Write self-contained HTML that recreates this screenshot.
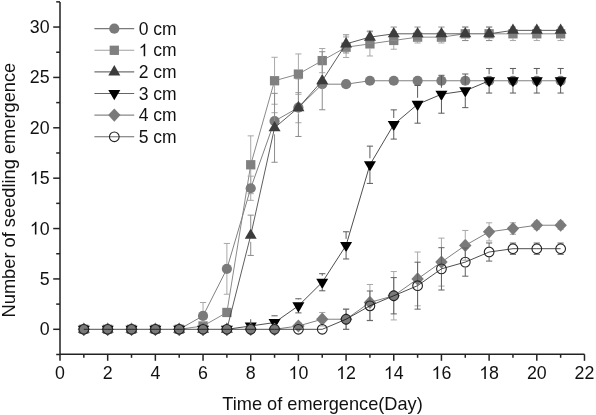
<!DOCTYPE html>
<html><head><meta charset="utf-8"><style>
html,body{margin:0;padding:0;background:#fff;}
svg{display:block;will-change:transform;font-family:"Liberation Sans",sans-serif;}
text{font-family:"Liberation Sans",sans-serif;}
</style></head><body>
<svg width="596" height="415" viewBox="0 0 596 415">
<g><path d="M60,1.9V354.3H584.5" stroke="#222" stroke-width="1.5" fill="none"/><path d="M60.00,354.3V360.80" stroke="#222" stroke-width="1.5"/><path d="M83.84,354.3V357.80" stroke="#222" stroke-width="1.5"/><path d="M107.68,354.3V360.80" stroke="#222" stroke-width="1.5"/><path d="M131.52,354.3V357.80" stroke="#222" stroke-width="1.5"/><path d="M155.36,354.3V360.80" stroke="#222" stroke-width="1.5"/><path d="M179.20,354.3V357.80" stroke="#222" stroke-width="1.5"/><path d="M203.04,354.3V360.80" stroke="#222" stroke-width="1.5"/><path d="M226.88,354.3V357.80" stroke="#222" stroke-width="1.5"/><path d="M250.72,354.3V360.80" stroke="#222" stroke-width="1.5"/><path d="M274.56,354.3V357.80" stroke="#222" stroke-width="1.5"/><path d="M298.40,354.3V360.80" stroke="#222" stroke-width="1.5"/><path d="M322.24,354.3V357.80" stroke="#222" stroke-width="1.5"/><path d="M346.08,354.3V360.80" stroke="#222" stroke-width="1.5"/><path d="M369.92,354.3V357.80" stroke="#222" stroke-width="1.5"/><path d="M393.76,354.3V360.80" stroke="#222" stroke-width="1.5"/><path d="M417.60,354.3V357.80" stroke="#222" stroke-width="1.5"/><path d="M441.44,354.3V360.80" stroke="#222" stroke-width="1.5"/><path d="M465.28,354.3V357.80" stroke="#222" stroke-width="1.5"/><path d="M489.12,354.3V360.80" stroke="#222" stroke-width="1.5"/><path d="M512.96,354.3V357.80" stroke="#222" stroke-width="1.5"/><path d="M536.80,354.3V360.80" stroke="#222" stroke-width="1.5"/><path d="M560.64,354.3V357.80" stroke="#222" stroke-width="1.5"/><path d="M584.48,354.3V360.80" stroke="#222" stroke-width="1.5"/><path d="M60,354.49H56.20" stroke="#222" stroke-width="1.5"/><path d="M60,329.30H53.20" stroke="#222" stroke-width="1.5"/><path d="M60,304.11H56.20" stroke="#222" stroke-width="1.5"/><path d="M60,278.93H53.20" stroke="#222" stroke-width="1.5"/><path d="M60,253.74H56.20" stroke="#222" stroke-width="1.5"/><path d="M60,228.55H53.20" stroke="#222" stroke-width="1.5"/><path d="M60,203.36H56.20" stroke="#222" stroke-width="1.5"/><path d="M60,178.18H53.20" stroke="#222" stroke-width="1.5"/><path d="M60,152.99H56.20" stroke="#222" stroke-width="1.5"/><path d="M60,127.80H53.20" stroke="#222" stroke-width="1.5"/><path d="M60,102.61H56.20" stroke="#222" stroke-width="1.5"/><path d="M60,77.43H53.20" stroke="#222" stroke-width="1.5"/><path d="M60,52.24H56.20" stroke="#222" stroke-width="1.5"/><path d="M60,27.05H53.20" stroke="#222" stroke-width="1.5"/><path d="M60,1.86H56.20" stroke="#222" stroke-width="1.5"/></g>
<g font-family="Liberation Sans, sans-serif" font-size="17.8" fill="#111"><text x="55.05" y="379.00" font-size="17.8" xml:space="preserve">0</text><text x="102.73" y="379.00" font-size="17.8" xml:space="preserve">2</text><text x="150.41" y="379.00" font-size="17.8" xml:space="preserve">4</text><text x="198.09" y="379.00" font-size="17.8" xml:space="preserve">6</text><text x="245.77" y="379.00" font-size="17.8" xml:space="preserve">8</text><path transform="translate(288.50,379.00) scale(0.00869,-0.00869)" d="M763,0L583,0L583,1147Q518,1085 412,1023Q306,961 223,930L223,1104Q372,1174 484,1274Q596,1374 643,1466L763,1466Z" fill="#111"/><text x="298.40" y="379.00" font-size="17.8" xml:space="preserve">0</text><path transform="translate(336.18,379.00) scale(0.00869,-0.00869)" d="M763,0L583,0L583,1147Q518,1085 412,1023Q306,961 223,930L223,1104Q372,1174 484,1274Q596,1374 643,1466L763,1466Z" fill="#111"/><text x="346.08" y="379.00" font-size="17.8" xml:space="preserve">2</text><path transform="translate(383.86,379.00) scale(0.00869,-0.00869)" d="M763,0L583,0L583,1147Q518,1085 412,1023Q306,961 223,930L223,1104Q372,1174 484,1274Q596,1374 643,1466L763,1466Z" fill="#111"/><text x="393.76" y="379.00" font-size="17.8" xml:space="preserve">4</text><path transform="translate(431.54,379.00) scale(0.00869,-0.00869)" d="M763,0L583,0L583,1147Q518,1085 412,1023Q306,961 223,930L223,1104Q372,1174 484,1274Q596,1374 643,1466L763,1466Z" fill="#111"/><text x="441.44" y="379.00" font-size="17.8" xml:space="preserve">6</text><path transform="translate(479.22,379.00) scale(0.00869,-0.00869)" d="M763,0L583,0L583,1147Q518,1085 412,1023Q306,961 223,930L223,1104Q372,1174 484,1274Q596,1374 643,1466L763,1466Z" fill="#111"/><text x="489.12" y="379.00" font-size="17.8" xml:space="preserve">8</text><text x="526.90" y="379.00" font-size="17.8" xml:space="preserve">20</text><text x="574.58" y="379.00" font-size="17.8" xml:space="preserve">22</text><text x="39.70" y="335.30" font-size="17.8" xml:space="preserve">0</text><text x="39.70" y="284.93" font-size="17.8" xml:space="preserve">5</text><path transform="translate(29.80,234.55) scale(0.00869,-0.00869)" d="M763,0L583,0L583,1147Q518,1085 412,1023Q306,961 223,930L223,1104Q372,1174 484,1274Q596,1374 643,1466L763,1466Z" fill="#111"/><text x="39.70" y="234.55" font-size="17.8" xml:space="preserve">0</text><path transform="translate(29.80,184.18) scale(0.00869,-0.00869)" d="M763,0L583,0L583,1147Q518,1085 412,1023Q306,961 223,930L223,1104Q372,1174 484,1274Q596,1374 643,1466L763,1466Z" fill="#111"/><text x="39.70" y="184.18" font-size="17.8" xml:space="preserve">5</text><text x="29.80" y="133.80" font-size="17.8" xml:space="preserve">20</text><text x="29.80" y="83.43" font-size="17.8" xml:space="preserve">25</text><text x="29.80" y="33.05" font-size="17.8" xml:space="preserve">30</text><text x="322.5" y="409.8" text-anchor="middle" font-size="18.2">Time of emergence(Day)</text><text transform="translate(15.1,190.1) rotate(-90)" text-anchor="middle" font-size="18.25">Number of seedling emergence</text><text x="138.70" y="34.60" font-size="17.5" xml:space="preserve">0 cm</text><path transform="translate(138.70,56.32) scale(0.00854,-0.00854)" d="M763,0L583,0L583,1147Q518,1085 412,1023Q306,961 223,930L223,1104Q372,1174 484,1274Q596,1374 643,1466L763,1466Z" fill="#111"/><text x="148.43" y="56.32" font-size="17.5" xml:space="preserve"> cm</text><text x="138.70" y="78.04" font-size="17.5" xml:space="preserve">2 cm</text><text x="138.70" y="99.76" font-size="17.5" xml:space="preserve">3 cm</text><text x="138.70" y="121.48" font-size="17.5" xml:space="preserve">4 cm</text><text x="138.70" y="143.20" font-size="17.5" xml:space="preserve">5 cm</text></g>
<g><path d="M94.4,28.7H134.2" stroke="#7a7a7a" stroke-width="1.2"/><circle cx="114.30" cy="28.70" r="5.1" fill="#7a7a7a"/><path d="M94.4,50.3H134.2" stroke="#a0a0a0" stroke-width="1.1"/><rect x="109.65" y="45.65" width="9.30" height="9.30" fill="#808080"/><path d="M94.4,71.9H134.2" stroke="#707070" stroke-width="1.1"/><path d="M114.30,65.10L120.30,75.40L108.30,75.40Z" fill="#3c3c3c"/><path d="M94.4,93.5H134.2" stroke="#666" stroke-width="1.1"/><path d="M114.30,100.30L120.30,90.00L108.30,90.00Z" fill="#000000"/><path d="M94.4,115.1H134.2" stroke="#888" stroke-width="1.2"/><path d="M114.30,108.50L120.50,115.10L114.30,121.70L108.10,115.10Z" fill="#7a7a7a"/><path d="M94.4,136.8H134.2" stroke="#6a6a6a" stroke-width="1.1"/><circle cx="114.30" cy="136.80" r="4.85" fill="none" stroke="#222" stroke-width="1.1"/></g>
<g><path d="M199.94,322.95H206.14M199.94,329.00H206.14" stroke="#a8a8a8" stroke-width="1" fill="none"/><path d="M223.78,309.45H229.98M223.78,315.50H229.98" stroke="#a8a8a8" stroke-width="1" fill="none"/><path d="M250.72,135.86V160.13M250.72,169.43V193.69M247.62,135.86H253.82M247.62,193.69H253.82" stroke="#a8a8a8" stroke-width="1" fill="none"/><path d="M274.56,57.28V76.10M274.56,85.40V104.22M271.46,57.28H277.66M271.46,104.22H277.66" stroke="#a8a8a8" stroke-width="1" fill="none"/><path d="M298.40,53.95V69.45M298.40,78.75V94.25M295.30,53.95H301.50M295.30,94.25H301.50" stroke="#a8a8a8" stroke-width="1" fill="none"/><path d="M322.24,48.51V55.95M322.24,65.25V72.69M319.14,48.51H325.34M319.14,72.69H325.34" stroke="#a8a8a8" stroke-width="1" fill="none"/><path d="M346.08,36.92V42.55M346.08,51.85V57.48M342.98,36.92H349.18M342.98,57.48H349.18" stroke="#a8a8a8" stroke-width="1" fill="none"/><path d="M369.92,31.79V39.23M369.92,48.53V55.97M366.82,31.79H373.02M366.82,55.97H373.02" stroke="#a8a8a8" stroke-width="1" fill="none"/><path d="M393.76,31.68V35.80M393.76,45.10V49.22M390.66,31.68H396.86M390.66,49.22H396.86" stroke="#a8a8a8" stroke-width="1" fill="none"/><path d="M417.60,31.28V32.48M417.60,41.78V42.97M414.50,31.28H420.70M414.50,42.97H420.70" stroke="#a8a8a8" stroke-width="1" fill="none"/><path d="M441.44,31.28V32.48M441.44,41.78V42.97M438.34,31.28H444.54M438.34,42.97H444.54" stroke="#a8a8a8" stroke-width="1" fill="none"/><path d="M465.28,27.05V29.15M465.28,38.45V40.55M462.18,27.05H468.38M462.18,40.55H468.38" stroke="#a8a8a8" stroke-width="1" fill="none"/><path d="M489.12,27.05V29.15M489.12,38.45V40.55M486.02,27.05H492.22M486.02,40.55H492.22" stroke="#a8a8a8" stroke-width="1" fill="none"/><path d="M512.96,27.05V29.15M512.96,38.45V40.55M509.86,27.05H516.06M509.86,40.55H516.06" stroke="#a8a8a8" stroke-width="1" fill="none"/><path d="M536.80,27.05V29.15M536.80,38.45V40.55M533.70,27.05H539.90M533.70,40.55H539.90" stroke="#a8a8a8" stroke-width="1" fill="none"/><path d="M560.64,27.05V29.15M560.64,38.45V40.55M557.54,27.05H563.74M557.54,40.55H563.74" stroke="#a8a8a8" stroke-width="1" fill="none"/><path d="M179.20,329.30L203.04,325.98L226.88,312.47L250.72,164.78L274.56,80.75L298.40,74.10L322.24,60.60L346.08,47.20L369.92,43.88L393.76,40.45L417.60,37.13L441.44,37.13L465.28,33.80M489.12,33.80L512.96,33.80L536.80,33.80L560.64,33.80" fill="none" stroke="#8a8a8a" stroke-width="1.0" stroke-linejoin="round"/><rect x="79.19" y="324.65" width="9.30" height="9.30" fill="#808080"/><rect x="103.03" y="324.65" width="9.30" height="9.30" fill="#808080"/><rect x="126.87" y="324.65" width="9.30" height="9.30" fill="#808080"/><rect x="150.71" y="324.65" width="9.30" height="9.30" fill="#808080"/><rect x="174.55" y="324.65" width="9.30" height="9.30" fill="#808080"/><rect x="198.39" y="321.33" width="9.30" height="9.30" fill="#808080"/><rect x="222.23" y="307.82" width="9.30" height="9.30" fill="#808080"/><rect x="246.07" y="160.13" width="9.30" height="9.30" fill="#808080"/><rect x="269.91" y="76.10" width="9.30" height="9.30" fill="#808080"/><rect x="293.75" y="69.45" width="9.30" height="9.30" fill="#808080"/><rect x="317.59" y="55.95" width="9.30" height="9.30" fill="#808080"/><rect x="341.43" y="42.55" width="9.30" height="9.30" fill="#808080"/><rect x="365.27" y="39.23" width="9.30" height="9.30" fill="#808080"/><rect x="389.11" y="35.80" width="9.30" height="9.30" fill="#808080"/><rect x="412.95" y="32.48" width="9.30" height="9.30" fill="#808080"/><rect x="436.79" y="32.48" width="9.30" height="9.30" fill="#808080"/><rect x="460.63" y="29.15" width="9.30" height="9.30" fill="#808080"/><rect x="484.47" y="29.15" width="9.30" height="9.30" fill="#808080"/><rect x="508.31" y="29.15" width="9.30" height="9.30" fill="#808080"/><rect x="532.15" y="29.15" width="9.30" height="9.30" fill="#808080"/><rect x="555.99" y="29.15" width="9.30" height="9.30" fill="#808080"/><path d="M203.04,302.50V310.80M203.04,321.00V329.30M199.94,302.50H206.14M199.94,329.30H206.14" stroke="#a8a8a8" stroke-width="1" fill="none"/><path d="M226.88,243.46V263.75M226.88,273.95V294.24M223.78,243.46H229.98M223.78,294.24H229.98" stroke="#a8a8a8" stroke-width="1" fill="none"/><path d="M250.72,176.16V183.15M250.72,193.35V200.34M247.62,176.16H253.82M247.62,200.34H253.82" stroke="#a8a8a8" stroke-width="1" fill="none"/><path d="M274.56,112.69V115.95M274.56,126.15V129.41M271.46,112.69H277.66M271.46,129.41H277.66" stroke="#a8a8a8" stroke-width="1" fill="none"/><path d="M298.40,92.54V102.55M298.40,112.75V122.76M295.30,92.54H301.50M295.30,122.76H301.50" stroke="#a8a8a8" stroke-width="1" fill="none"/><path d="M319.14,81.15H325.34M319.14,87.20H325.34" stroke="#a8a8a8" stroke-width="1" fill="none"/><path d="M342.98,81.15H349.18M342.98,87.20H349.18" stroke="#a8a8a8" stroke-width="1" fill="none"/><path d="M366.82,77.73H373.02M366.82,83.77H373.02" stroke="#a8a8a8" stroke-width="1" fill="none"/><path d="M390.66,77.73H396.86M390.66,83.77H396.86" stroke="#a8a8a8" stroke-width="1" fill="none"/><path d="M414.50,77.73H420.70M414.50,83.77H420.70" stroke="#a8a8a8" stroke-width="1" fill="none"/><path d="M438.34,77.73H444.54M438.34,83.77H444.54" stroke="#a8a8a8" stroke-width="1" fill="none"/><path d="M462.18,77.73H468.38M462.18,83.77H468.38" stroke="#a8a8a8" stroke-width="1" fill="none"/><path d="M486.02,77.73H492.22M486.02,83.77H492.22" stroke="#a8a8a8" stroke-width="1" fill="none"/><path d="M509.86,77.73H516.06M509.86,83.77H516.06" stroke="#a8a8a8" stroke-width="1" fill="none"/><path d="M533.70,77.73H539.90M533.70,83.77H539.90" stroke="#a8a8a8" stroke-width="1" fill="none"/><path d="M557.54,77.73H563.74M557.54,83.77H563.74" stroke="#a8a8a8" stroke-width="1" fill="none"/><path d="M179.20,329.30L203.04,315.90L226.88,268.85L250.72,188.25L274.56,121.05L298.40,107.65L322.24,84.18L346.08,84.18L369.92,80.75L393.76,80.75L417.60,80.75L441.44,80.75L465.28,80.75L489.12,80.75L512.96,80.75L536.80,80.75L560.64,80.75" fill="none" stroke="#808080" stroke-width="1.0" stroke-linejoin="round"/><circle cx="83.84" cy="329.30" r="5.1" fill="#7a7a7a"/><circle cx="107.68" cy="329.30" r="5.1" fill="#7a7a7a"/><circle cx="131.52" cy="329.30" r="5.1" fill="#7a7a7a"/><circle cx="155.36" cy="329.30" r="5.1" fill="#7a7a7a"/><circle cx="179.20" cy="329.30" r="5.1" fill="#7a7a7a"/><circle cx="203.04" cy="315.90" r="5.1" fill="#7a7a7a"/><circle cx="226.88" cy="268.85" r="5.1" fill="#7a7a7a"/><circle cx="250.72" cy="188.25" r="5.1" fill="#7a7a7a"/><circle cx="274.56" cy="121.05" r="5.1" fill="#7a7a7a"/><circle cx="298.40" cy="107.65" r="5.1" fill="#7a7a7a"/><circle cx="322.24" cy="84.18" r="5.1" fill="#7a7a7a"/><circle cx="346.08" cy="84.18" r="5.1" fill="#7a7a7a"/><circle cx="369.92" cy="80.75" r="5.1" fill="#7a7a7a"/><circle cx="393.76" cy="80.75" r="5.1" fill="#7a7a7a"/><circle cx="417.60" cy="80.75" r="5.1" fill="#7a7a7a"/><circle cx="441.44" cy="80.75" r="5.1" fill="#7a7a7a"/><circle cx="465.28" cy="80.75" r="5.1" fill="#7a7a7a"/><circle cx="489.12" cy="80.75" r="5.1" fill="#7a7a7a"/><circle cx="512.96" cy="80.75" r="5.1" fill="#7a7a7a"/><circle cx="536.80" cy="80.75" r="5.1" fill="#7a7a7a"/><circle cx="560.64" cy="80.75" r="5.1" fill="#7a7a7a"/><path d="M250.72,215.15V228.80M250.72,241.80V255.45M247.62,215.15H253.82M247.62,255.45H253.82" stroke="#8c8c8c" stroke-width="1" fill="none"/><path d="M274.56,93.34V121.30M274.56,134.30V162.26M271.46,93.34H277.66M271.46,162.26H277.66" stroke="#8c8c8c" stroke-width="1" fill="none"/><path d="M298.40,78.84V101.15M298.40,114.15V136.46M295.30,78.84H301.50M295.30,136.46H301.50" stroke="#8c8c8c" stroke-width="1" fill="none"/><path d="M322.24,51.73V74.25M322.24,87.25V109.77M319.14,51.73H325.34M319.14,109.77H325.34" stroke="#8c8c8c" stroke-width="1" fill="none"/><path d="M346.08,34.81V37.38M346.08,50.38V52.94M342.98,34.81H349.18M342.98,52.94H349.18" stroke="#8c8c8c" stroke-width="1" fill="none"/><path d="M366.82,31.08H373.02M366.82,43.17H373.02" stroke="#8c8c8c" stroke-width="1" fill="none"/><path d="M393.76,27.05V27.30M393.76,40.30V40.55M390.66,27.05H396.86M390.66,40.55H396.86" stroke="#8c8c8c" stroke-width="1" fill="none"/><path d="M417.60,27.05V27.30M417.60,40.30V40.55M414.50,27.05H420.70M414.50,40.55H420.70" stroke="#8c8c8c" stroke-width="1" fill="none"/><path d="M441.44,27.05V27.30M441.44,40.30V40.55M438.34,27.05H444.54M438.34,40.55H444.54" stroke="#8c8c8c" stroke-width="1" fill="none"/><path d="M465.28,27.05V27.30M465.28,40.30V40.55M462.18,27.05H468.38M462.18,40.55H468.38" stroke="#8c8c8c" stroke-width="1" fill="none"/><path d="M489.12,27.05V27.30M489.12,40.30V40.55M486.02,27.05H492.22M486.02,40.55H492.22" stroke="#8c8c8c" stroke-width="1" fill="none"/><path d="M226.88,329.30L250.72,235.30L274.56,127.80L298.40,107.65L322.24,80.75L346.08,43.88L369.92,37.13L393.76,33.80L417.60,33.80L441.44,33.80L465.28,33.80L489.12,33.80L512.96,30.37L536.80,30.37L560.64,30.37" fill="none" stroke="#333333" stroke-width="0.8" stroke-linejoin="round"/><path d="M83.84,322.50L89.84,332.80L77.84,332.80Z" fill="#3c3c3c"/><path d="M107.68,322.50L113.68,332.80L101.68,332.80Z" fill="#3c3c3c"/><path d="M131.52,322.50L137.52,332.80L125.52,332.80Z" fill="#3c3c3c"/><path d="M155.36,322.50L161.36,332.80L149.36,332.80Z" fill="#3c3c3c"/><path d="M179.20,322.50L185.20,332.80L173.20,332.80Z" fill="#3c3c3c"/><path d="M203.04,322.50L209.04,332.80L197.04,332.80Z" fill="#3c3c3c"/><path d="M226.88,322.50L232.88,332.80L220.88,332.80Z" fill="#3c3c3c"/><path d="M250.72,228.50L256.72,238.80L244.72,238.80Z" fill="#3c3c3c"/><path d="M274.56,121.00L280.56,131.30L268.56,131.30Z" fill="#3c3c3c"/><path d="M298.40,100.85L304.40,111.15L292.40,111.15Z" fill="#3c3c3c"/><path d="M322.24,73.95L328.24,84.25L316.24,84.25Z" fill="#3c3c3c"/><path d="M346.08,37.08L352.08,47.38L340.08,47.38Z" fill="#3c3c3c"/><path d="M369.92,30.33L375.92,40.63L363.92,40.63Z" fill="#3c3c3c"/><path d="M393.76,27.00L399.76,37.30L387.76,37.30Z" fill="#3c3c3c"/><path d="M417.60,27.00L423.60,37.30L411.60,37.30Z" fill="#3c3c3c"/><path d="M441.44,27.00L447.44,37.30L435.44,37.30Z" fill="#3c3c3c"/><path d="M465.28,27.00L471.28,37.30L459.28,37.30Z" fill="#3c3c3c"/><path d="M489.12,27.00L495.12,37.30L483.12,37.30Z" fill="#3c3c3c"/><path d="M512.96,23.57L518.96,33.87L506.96,33.87Z" fill="#3c3c3c"/><path d="M536.80,23.57L542.80,33.87L530.80,33.87Z" fill="#3c3c3c"/><path d="M560.64,23.57L566.64,33.87L554.64,33.87Z" fill="#3c3c3c"/><path d="M250.72,322.48V319.23" stroke="#5a5a5a" stroke-width="1" fill="none"/><path d="M274.56,315.80V316.05M274.56,329.05V329.30M271.46,315.80H277.66M271.46,329.30H277.66" stroke="#5a5a5a" stroke-width="1" fill="none"/><path d="M298.40,298.77V299.33M298.40,312.33V312.88M295.30,298.77H301.50M295.30,312.88H301.50" stroke="#5a5a5a" stroke-width="1" fill="none"/><path d="M322.24,273.69V275.75M322.24,288.75V290.81M319.14,273.69H325.34M319.14,290.81H325.34" stroke="#5a5a5a" stroke-width="1" fill="none"/><path d="M346.08,231.77V238.88M346.08,251.88V258.98M342.98,231.77H349.18M342.98,258.98H349.18" stroke="#5a5a5a" stroke-width="1" fill="none"/><path d="M369.92,146.14V158.28M369.92,171.28V183.41M366.82,146.14H373.02M366.82,183.41H373.02" stroke="#5a5a5a" stroke-width="1" fill="none"/><path d="M393.76,109.87V117.98M393.76,130.98V139.08M390.66,109.87H396.86M390.66,139.08H396.86" stroke="#5a5a5a" stroke-width="1" fill="none"/><path d="M417.60,85.49V97.83M417.60,110.83V123.17M414.50,85.49H420.70M414.50,123.17H420.70" stroke="#5a5a5a" stroke-width="1" fill="none"/><path d="M441.44,75.31V87.75M441.44,100.75V113.19M438.34,75.31H444.54M438.34,113.19H444.54" stroke="#5a5a5a" stroke-width="1" fill="none"/><path d="M465.28,74.00V84.32M465.28,97.32V107.65M462.18,74.00H468.38M462.18,107.65H468.38" stroke="#5a5a5a" stroke-width="1" fill="none"/><path d="M489.12,68.46V74.25M489.12,87.25V93.04M486.02,68.46H492.22M486.02,93.04H492.22" stroke="#5a5a5a" stroke-width="1" fill="none"/><path d="M512.96,68.46V74.25M512.96,87.25V93.04M509.86,68.46H516.06M509.86,93.04H516.06" stroke="#5a5a5a" stroke-width="1" fill="none"/><path d="M536.80,68.46V74.25M536.80,87.25V93.04M533.70,68.46H539.90M533.70,93.04H539.90" stroke="#5a5a5a" stroke-width="1" fill="none"/><path d="M560.64,68.46V74.25M560.64,87.25V93.04M557.54,68.46H563.74M557.54,93.04H563.74" stroke="#5a5a5a" stroke-width="1" fill="none"/><path d="M226.88,329.30L250.72,325.98L274.56,322.55L298.40,305.83L322.24,282.25L346.08,245.38L369.92,164.78L393.76,124.48L417.60,104.33L441.44,94.25L465.28,90.82L489.12,80.75" fill="none" stroke="#000000" stroke-width="0.7" stroke-linejoin="round"/><path d="M83.84,336.10L89.84,325.80L77.84,325.80Z" fill="#000000"/><path d="M107.68,336.10L113.68,325.80L101.68,325.80Z" fill="#000000"/><path d="M131.52,336.10L137.52,325.80L125.52,325.80Z" fill="#000000"/><path d="M155.36,336.10L161.36,325.80L149.36,325.80Z" fill="#000000"/><path d="M179.20,336.10L185.20,325.80L173.20,325.80Z" fill="#000000"/><path d="M203.04,336.10L209.04,325.80L197.04,325.80Z" fill="#000000"/><path d="M226.88,336.10L232.88,325.80L220.88,325.80Z" fill="#000000"/><path d="M250.72,332.78L256.72,322.48L244.72,322.48Z" fill="#000000"/><path d="M274.56,329.35L280.56,319.05L268.56,319.05Z" fill="#000000"/><path d="M298.40,312.63L304.40,302.33L292.40,302.33Z" fill="#000000"/><path d="M322.24,289.05L328.24,278.75L316.24,278.75Z" fill="#000000"/><path d="M346.08,252.18L352.08,241.88L340.08,241.88Z" fill="#000000"/><path d="M369.92,171.58L375.92,161.28L363.92,161.28Z" fill="#000000"/><path d="M393.76,131.28L399.76,120.98L387.76,120.98Z" fill="#000000"/><path d="M417.60,111.13L423.60,100.83L411.60,100.83Z" fill="#000000"/><path d="M441.44,101.05L447.44,90.75L435.44,90.75Z" fill="#000000"/><path d="M465.28,97.62L471.28,87.32L459.28,87.32Z" fill="#000000"/><path d="M489.12,87.55L495.12,77.25L483.12,77.25Z" fill="#000000"/><path d="M512.96,87.55L518.96,77.25L506.96,77.25Z" fill="#000000"/><path d="M536.80,87.55L542.80,77.25L530.80,77.25Z" fill="#000000"/><path d="M560.64,87.55L566.64,77.25L554.64,77.25Z" fill="#000000"/><path d="M295.30,322.95H301.50M295.30,329.00H301.50" stroke="#a8a8a8" stroke-width="1" fill="none"/><path d="M322.24,312.47V312.62M322.24,325.83V325.98M319.14,312.47H325.34M319.14,325.98H325.34" stroke="#a8a8a8" stroke-width="1" fill="none"/><path d="M346.08,309.15V312.62M346.08,325.83V329.30M342.98,309.15H349.18M342.98,329.30H349.18" stroke="#a8a8a8" stroke-width="1" fill="none"/><path d="M369.92,284.47V295.80M369.92,309.00V320.33M366.82,284.47H373.02M366.82,320.33H373.02" stroke="#a8a8a8" stroke-width="1" fill="none"/><path d="M393.76,271.57V289.15M393.76,302.35V319.93M390.66,271.57H396.86M390.66,319.93H396.86" stroke="#a8a8a8" stroke-width="1" fill="none"/><path d="M417.60,252.02V272.32M417.60,285.53V305.83M414.50,252.02H420.70M414.50,305.83H420.70" stroke="#a8a8a8" stroke-width="1" fill="none"/><path d="M441.44,238.12V255.50M441.44,268.70V286.08M438.34,238.12H444.54M438.34,286.08H444.54" stroke="#a8a8a8" stroke-width="1" fill="none"/><path d="M465.28,230.46V238.78M465.28,251.98V260.29M462.18,230.46H468.38M462.18,260.29H468.38" stroke="#a8a8a8" stroke-width="1" fill="none"/><path d="M489.12,222.81V225.27M489.12,238.47V240.94M486.02,222.81H492.22M486.02,240.94H492.22" stroke="#a8a8a8" stroke-width="1" fill="none"/><path d="M509.86,222.81H516.06M509.86,234.29H516.06" stroke="#a8a8a8" stroke-width="1" fill="none"/><path d="M533.70,221.20H539.90M533.70,229.26H539.90" stroke="#a8a8a8" stroke-width="1" fill="none"/><path d="M557.54,221.20H563.74M557.54,229.26H563.74" stroke="#a8a8a8" stroke-width="1" fill="none"/><path d="M274.56,329.30L298.40,325.98L322.24,319.23L346.08,319.23L369.92,302.40L393.76,295.75L417.60,278.93L441.44,262.10L465.28,245.38L489.12,231.87L512.96,228.55L536.80,225.23L560.64,225.23" fill="none" stroke="#808080" stroke-width="1.0" stroke-linejoin="round"/><path d="M83.84,322.70L90.04,329.30L83.84,335.90L77.64,329.30Z" fill="#7a7a7a"/><path d="M107.68,322.70L113.88,329.30L107.68,335.90L101.48,329.30Z" fill="#7a7a7a"/><path d="M131.52,322.70L137.72,329.30L131.52,335.90L125.32,329.30Z" fill="#7a7a7a"/><path d="M155.36,322.70L161.56,329.30L155.36,335.90L149.16,329.30Z" fill="#7a7a7a"/><path d="M179.20,322.70L185.40,329.30L179.20,335.90L173.00,329.30Z" fill="#7a7a7a"/><path d="M203.04,322.70L209.24,329.30L203.04,335.90L196.84,329.30Z" fill="#7a7a7a"/><path d="M226.88,322.70L233.08,329.30L226.88,335.90L220.68,329.30Z" fill="#7a7a7a"/><path d="M250.72,322.70L256.92,329.30L250.72,335.90L244.52,329.30Z" fill="#7a7a7a"/><path d="M274.56,322.70L280.76,329.30L274.56,335.90L268.36,329.30Z" fill="#7a7a7a"/><path d="M298.40,319.38L304.60,325.98L298.40,332.58L292.20,325.98Z" fill="#7a7a7a"/><path d="M322.24,312.62L328.44,319.23L322.24,325.83L316.04,319.23Z" fill="#7a7a7a"/><path d="M346.08,312.62L352.28,319.23L346.08,325.83L339.88,319.23Z" fill="#7a7a7a"/><path d="M369.92,295.80L376.12,302.40L369.92,309.00L363.72,302.40Z" fill="#7a7a7a"/><path d="M393.76,289.15L399.96,295.75L393.76,302.35L387.56,295.75Z" fill="#7a7a7a"/><path d="M417.60,272.32L423.80,278.93L417.60,285.53L411.40,278.93Z" fill="#7a7a7a"/><path d="M441.44,255.50L447.64,262.10L441.44,268.70L435.24,262.10Z" fill="#7a7a7a"/><path d="M465.28,238.78L471.48,245.38L465.28,251.98L459.08,245.38Z" fill="#7a7a7a"/><path d="M489.12,225.27L495.32,231.87L489.12,238.47L482.92,231.87Z" fill="#7a7a7a"/><path d="M512.96,221.95L519.16,228.55L512.96,235.15L506.76,228.55Z" fill="#7a7a7a"/><path d="M536.80,218.63L543.00,225.23L536.80,231.83L530.60,225.23Z" fill="#7a7a7a"/><path d="M560.64,218.63L566.84,225.23L560.64,231.83L554.44,225.23Z" fill="#7a7a7a"/><path d="M346.08,309.15V313.83M346.08,324.62V329.30M342.98,309.15H349.18M342.98,329.30H349.18" stroke="#626262" stroke-width="1" fill="none"/><path d="M369.92,291.01V300.43M369.92,311.23V320.64M366.82,291.01H373.02M366.82,320.64H373.02" stroke="#626262" stroke-width="1" fill="none"/><path d="M393.76,277.62V290.35M393.76,301.15V313.89M390.66,277.62H396.86M390.66,313.89H396.86" stroke="#626262" stroke-width="1" fill="none"/><path d="M417.60,262.20V280.28M417.60,291.08V309.15M414.50,262.20H420.70M414.50,309.15H420.70" stroke="#626262" stroke-width="1" fill="none"/><path d="M441.44,247.69V263.45M441.44,274.25V290.01M438.34,247.69H444.54M438.34,290.01H444.54" stroke="#626262" stroke-width="1" fill="none"/><path d="M465.28,247.99V256.70M465.28,267.50V276.20M462.18,247.99H468.38M462.18,276.20H468.38" stroke="#626262" stroke-width="1" fill="none"/><path d="M489.12,242.96V246.62M489.12,257.42V261.09M486.02,242.96H492.22M486.02,261.09H492.22" stroke="#626262" stroke-width="1" fill="none"/><path d="M512.96,243.06V243.30M512.96,254.10V254.34M509.86,243.06H516.06M509.86,254.34H516.06" stroke="#626262" stroke-width="1" fill="none"/><path d="M536.80,243.06V243.30M536.80,254.10V254.34M533.70,243.06H539.90M533.70,254.34H539.90" stroke="#626262" stroke-width="1" fill="none"/><path d="M560.64,243.06V243.30M560.64,254.10V254.34M557.54,243.06H563.74M557.54,254.34H563.74" stroke="#626262" stroke-width="1" fill="none"/><path d="M83.84,329.30L107.68,329.30L131.52,329.30L155.36,329.30L179.20,329.30L203.04,329.30L226.88,329.30L250.72,329.30L274.56,329.30L298.40,329.30L322.24,329.30L346.08,319.23L369.92,305.83L393.76,295.75L417.60,285.68L441.44,268.85L465.28,262.10L489.12,252.02L512.96,248.70L536.80,248.70L560.64,248.70" fill="none" stroke="#000000" stroke-width="0.7" stroke-linejoin="round"/><circle cx="83.84" cy="329.30" r="4.85" fill="none" stroke="#222" stroke-width="1.1"/><circle cx="107.68" cy="329.30" r="4.85" fill="none" stroke="#222" stroke-width="1.1"/><circle cx="131.52" cy="329.30" r="4.85" fill="none" stroke="#222" stroke-width="1.1"/><circle cx="155.36" cy="329.30" r="4.85" fill="none" stroke="#222" stroke-width="1.1"/><circle cx="179.20" cy="329.30" r="4.85" fill="none" stroke="#222" stroke-width="1.1"/><circle cx="203.04" cy="329.30" r="4.85" fill="none" stroke="#222" stroke-width="1.1"/><circle cx="226.88" cy="329.30" r="4.85" fill="none" stroke="#222" stroke-width="1.1"/><circle cx="250.72" cy="329.30" r="4.85" fill="none" stroke="#222" stroke-width="1.1"/><circle cx="274.56" cy="329.30" r="4.85" fill="none" stroke="#222" stroke-width="1.1"/><circle cx="298.40" cy="329.30" r="4.85" fill="none" stroke="#222" stroke-width="1.1"/><circle cx="322.24" cy="329.30" r="4.85" fill="none" stroke="#222" stroke-width="1.1"/><circle cx="346.08" cy="319.23" r="4.85" fill="none" stroke="#222" stroke-width="1.1"/><circle cx="369.92" cy="305.83" r="4.85" fill="none" stroke="#222" stroke-width="1.1"/><circle cx="393.76" cy="295.75" r="4.85" fill="none" stroke="#222" stroke-width="1.1"/><circle cx="417.60" cy="285.68" r="4.85" fill="none" stroke="#222" stroke-width="1.1"/><circle cx="441.44" cy="268.85" r="4.85" fill="none" stroke="#222" stroke-width="1.1"/><circle cx="465.28" cy="262.10" r="4.85" fill="none" stroke="#222" stroke-width="1.1"/><circle cx="489.12" cy="252.02" r="4.85" fill="none" stroke="#222" stroke-width="1.1"/><circle cx="512.96" cy="248.70" r="4.85" fill="none" stroke="#222" stroke-width="1.1"/><circle cx="536.80" cy="248.70" r="4.85" fill="none" stroke="#222" stroke-width="1.1"/><circle cx="560.64" cy="248.70" r="4.85" fill="none" stroke="#222" stroke-width="1.1"/></g>
</svg>
</body></html>
